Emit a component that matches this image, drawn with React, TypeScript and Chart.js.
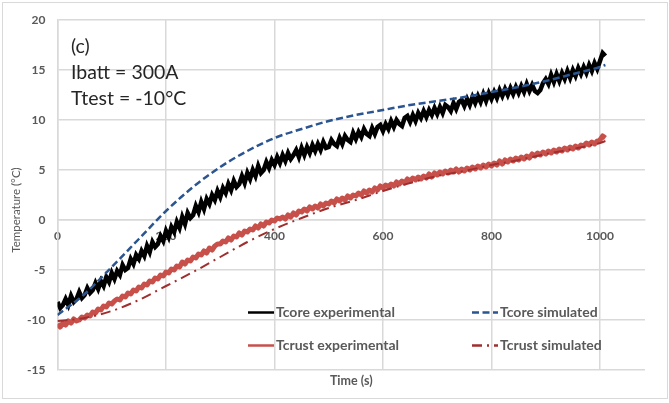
import React, { useEffect, useRef } from "react";
import { Chart, registerables } from "chart.js";

Chart.register(...registerables);

// Sampling step of the experimental records (seconds)
const SAMPLE_STEP_S = 5;

// Tcore experimental (°C), one value every 5 s from 0 to 1010 s
const tcoreExperimental: number[] = [
  -8.2, -8.8, -8.5, -7.9, -8.5, -7.6, -8.2, -7.9, -7.2, -7.8,
  -7.5, -6.8, -7.3, -7.0, -6.3, -6.9, -6.1, -6.6, -5.7, -6.2,
  -5.3, -5.9, -5.1, -5.5, -4.5, -5.0, -4.8, -3.9, -4.4, -3.5,
  -3.9, -3.1, -3.6, -2.6, -3.2, -2.2, -2.7, -2.4, -1.6, -2.1,
  -1.1, -1.7, -0.7, -1.2, -0.2, -0.8, 0.3, -0.4, 0.7, 0.2,
  0.5, 1.4, 0.8, 1.8, 1.1, 2.1, 1.6, 2.5, 2.0, 2.9,
  2.3, 3.2, 2.7, 3.6, 3.0, 3.9, 3.3, 3.6, 4.4, 3.7,
  4.7, 4.1, 5.0, 4.4, 5.4, 4.7, 5.0, 5.8, 5.2, 6.0,
  5.5, 6.3, 5.7, 6.5, 5.9, 6.7, 6.1, 6.5, 7.0, 6.3,
  7.2, 6.5, 7.3, 6.7, 7.5, 6.9, 7.6, 7.0, 7.8, 7.2,
  7.3, 8.0, 7.6, 7.4, 8.2, 7.6, 8.4, 8.0, 7.8, 8.7,
  8.1, 8.8, 8.3, 9.1, 8.6, 8.4, 9.2, 8.6, 9.3, 9.5,
  8.9, 9.6, 9.1, 9.9, 9.3, 10.0, 9.6, 9.4, 10.2, 10.4,
  9.8, 10.5, 9.9, 10.7, 10.2, 10.9, 10.3, 11.0, 10.5, 11.2,
  10.6, 11.3, 10.7, 11.5, 11.3, 10.9, 11.7, 11.1, 11.8, 12.0,
  11.4, 12.1, 11.5, 12.3, 11.7, 12.4, 11.8, 12.6, 11.9, 12.7,
  12.1, 12.8, 12.2, 13.0, 12.4, 13.1, 12.5, 13.2, 12.6, 13.3,
  12.7, 13.4, 12.8, 13.6, 12.9, 13.5, 12.9, 12.7, 13.0, 13.7,
  14.1, 13.6, 14.5, 13.8, 14.6, 13.9, 14.7, 14.1, 14.9, 14.2,
  15.0, 14.4, 15.2, 14.6, 15.3, 14.7, 15.5, 14.9, 15.7, 15.1,
  15.9, 16.7, 16.4,
];

// Tcrust experimental (°C), one value every 5 s from 0 to 1010 s
const tcrustExperimental: number[] = [
  -10.4, -10.7, -10.3, -10.5, -10.1, -10.3, -9.9, -10.1, -10.0, -9.7,
  -9.8, -9.5, -9.6, -9.2, -9.3, -8.9, -9.0, -8.6, -8.7, -8.3,
  -8.4, -8.1, -7.9, -8.0, -7.6, -7.7, -7.3, -7.4, -7.0, -7.1,
  -6.7, -6.8, -6.4, -6.5, -6.1, -6.2, -5.8, -5.9, -5.5, -5.6,
  -5.2, -5.3, -4.9, -5.0, -4.6, -4.7, -4.2, -4.4, -4.0, -4.1,
  -3.7, -3.8, -3.4, -3.5, -3.1, -3.3, -2.8, -3.0, -2.6, -2.4,
  -2.4, -2.1, -2.2, -1.8, -2.0, -1.6, -1.7, -1.3, -1.5, -1.1,
  -1.2, -0.9, -1.0, -0.6, -0.8, -0.4, -0.6, -0.2, -0.3, 0.0,
  -0.1, 0.2, 0.1, 0.3, 0.1, 0.5, 0.3, 0.7, 0.5, 0.9,
  0.8, 1.1, 0.9, 1.3, 1.1, 1.4, 1.2, 1.6, 1.4, 1.7,
  1.6, 1.9, 1.7, 2.1, 1.9, 2.2, 2.0, 2.4, 2.2, 2.5,
  2.4, 2.7, 2.5, 2.9, 2.7, 3.0, 2.8, 3.2, 3.0, 3.4,
  3.2, 3.5, 3.3, 3.6, 3.4, 3.8, 3.6, 3.9, 3.7, 4.1,
  3.9, 4.2, 4.0, 4.3, 4.1, 4.4, 4.2, 4.6, 4.3, 4.7,
  4.5, 4.8, 4.6, 4.9, 4.7, 5.0, 4.8, 5.1, 4.8, 5.1,
  4.9, 5.2, 5.0, 5.3, 5.1, 5.4, 5.2, 5.5, 5.3, 5.6,
  5.4, 5.7, 5.5, 5.9, 5.6, 6.0, 5.8, 6.1, 5.9, 6.2,
  6.0, 6.3, 6.1, 6.4, 6.2, 6.6, 6.4, 6.7, 6.5, 6.8,
  6.6, 6.9, 6.7, 7.0, 6.8, 7.1, 6.9, 7.2, 7.0, 7.3,
  7.1, 7.4, 7.2, 7.5, 7.4, 7.7, 7.5, 7.8, 7.6, 7.9,
  8.0, 8.4, 8.2,
];

// Simulated curves (s, °C)
const simulatedTimes: number[] = [
  0, 50, 100, 150, 200, 250, 300, 350, 400, 450, 500,
  550, 600, 650, 700, 750, 800, 850, 900, 950, 1000, 1010,
];
const tcoreSimulated: number[] = [
  -9.5, -7.4, -4.7, -1.9, 0.9, 3.3, 5.3, 6.9, 8.2, 9.1, 9.9,
  10.5, 11.0, 11.5, 11.9, 12.3, 12.8, 13.3, 13.9, 14.6, 15.3, 15.5,
];
const tcrustSimulated: number[] = [
  -10.1, -9.8, -9.1, -8.0, -6.6, -5.2, -3.7, -2.2, -0.9, 0.2, 1.2,
  2.0, 2.9, 3.7, 4.4, 4.9, 5.5, 6.0, 6.6, 7.1, 7.7, 7.9,
];

const seriesLabels = [
  "Tcore experimental",
  "Tcore simulated",
  "Tcrust experimental",
  "Tcrust simulated",
];
const annotationLines = ["(c)", "Ibatt = 300A", "Ttest = -10°C"];
const xTitle = "Time (s)";
const yTitle = "Temperature (°C)";

const X_MIN = 0;
const X_MAX = 1083;
const X_STEP = 200;
const Y_MIN = -15;
const Y_MAX = 20;
const Y_STEP = 5;

const FONT = "Lato, 'Open Sans', 'DejaVu Sans', sans-serif";
const GRAY = "#595959";
const GRID = "#d9d9d9";

const expPoints = (vals: number[]) =>
  vals.map((v, i) => ({ x: i * SAMPLE_STEP_S, y: v }));
const simPoints = (vals: number[]) =>
  vals.map((v, i) => ({ x: simulatedTimes[i], y: v }));

const decorPlugin = {
  id: "decor",
  afterDraw(chart: any) {
    const ctx = chart.ctx as CanvasRenderingContext2D;
    const area = chart.chartArea;
    ctx.save();
    // outer frame
    ctx.strokeStyle = GRID;
    ctx.lineWidth = 1;
    ctx.strokeRect(2.5, 2.5, 665, 396);

    // annotation
    ctx.fillStyle = "#262626";
    ctx.font = `19.5px ${FONT}`;
    ctx.textAlign = "left";
    ctx.textBaseline = "middle";
    const annY = [47, 73, 99];
    annotationLines.forEach((t, i) => ctx.fillText(t, 71, annY[i]));

    // axis titles
    ctx.fillStyle = GRAY;
    ctx.font = `bold 12.5px ${FONT}`;
    ctx.textAlign = "center";
    ctx.fillText(xTitle, (area.left + area.right) / 2, 381);
    ctx.save();
    ctx.translate(16, 210);
    ctx.rotate(-Math.PI / 2);
    ctx.font = `11.5px ${FONT}`;
    ctx.fillText(yTitle, 0, 0);
    ctx.restore();

    // legend
    const slots = [
      { ds: 0, x: 248, y: 312.5 },
      { ds: 1, x: 472, y: 312.5 },
      { ds: 2, x: 248, y: 345.5 },
      { ds: 3, x: 472, y: 345.5 },
    ];
    slots.forEach((s) => {
      const ds = chart.data.datasets[s.ds];
      ctx.save();
      ctx.strokeStyle = ds.borderColor;
      ctx.lineWidth = 2.5;
      ctx.setLineDash(ds.borderDash || []);
      ctx.lineCap = "butt";
      ctx.beginPath();
      ctx.moveTo(s.x, s.y);
      ctx.lineTo(s.x + 26, s.y);
      ctx.stroke();
      ctx.restore();
      ctx.fillStyle = GRAY;
      ctx.font = `bold 14px ${FONT}`;
      ctx.textAlign = "left";
      ctx.textBaseline = "middle";
      ctx.fillText(ds.label, s.x + 28, s.y);
    });
    ctx.restore();
  },
};

export default function App() {
  const canvasRef = useRef<HTMLCanvasElement | null>(null);

  useEffect(() => {
    document.body.style.margin = "0";
    const canvas = canvasRef.current;
    if (!canvas) return;
    const chart = new Chart(canvas, {
      type: "line",
      data: {
        datasets: [
          {
            label: seriesLabels[0],
            data: expPoints(tcoreExperimental),
            borderColor: "#000000",
            borderWidth: 4.5,
            borderJoinStyle: "miter",
            pointRadius: 0,
            tension: 0,
            order: 2,
          },
          {
            label: seriesLabels[1],
            data: simPoints(tcoreSimulated),
            borderColor: "#2B5590",
            borderWidth: 2.5,
            borderDash: [7, 3.5],
            pointRadius: 0,
            cubicInterpolationMode: "monotone",
            order: 0,
          },
          {
            label: seriesLabels[2],
            data: expPoints(tcrustExperimental),
            borderColor: "#C8504B",
            borderWidth: 5,
            borderJoinStyle: "round",
            pointRadius: 0,
            tension: 0,
            order: 3,
          },
          {
            label: seriesLabels[3],
            data: simPoints(tcrustSimulated),
            borderColor: "#A12E2E",
            borderWidth: 2,
            borderDash: [10, 5, 2, 5],
            pointRadius: 0,
            cubicInterpolationMode: "monotone",
            order: 1,
          },
        ],
      },
      options: {
        animation: false,
        responsive: false,
        devicePixelRatio: 1,
        layout: { padding: { left: 4, top: 20, right: 24, bottom: 33 } },
        plugins: {
          legend: { display: false },
          tooltip: { enabled: false },
        },
        scales: {
          x: {
            type: "linear",
            min: X_MIN,
            max: X_MAX,
            position: { y: 0 } as any,
            ticks: {
              stepSize: X_STEP,
              includeBounds: false,
              color: GRAY,
              font: { family: FONT, size: 12, weight: "bold" },
              padding: 9,
              maxRotation: 0,
              callback: (v: any) => String(v),
            },
            grid: { color: GRID, lineWidth: 1.5, drawTicks: false },
            border: { color: GRID, width: 1.5 },
          },
          y: {
            type: "linear",
            min: Y_MIN,
            max: Y_MAX,
            ticks: {
              stepSize: Y_STEP,
              color: GRAY,
              font: { family: FONT, size: 12, weight: "bold" },
              padding: 12,
              callback: (v: any) => String(v),
            },
            grid: { color: GRID, lineWidth: 1.5, drawTicks: false },
            border: { color: GRID, width: 1.5 },
            afterFit: (scale: any) => {
              scale.width = 53.5;
            },
          },
        },
      },
      plugins: [decorPlugin],
    });
    return () => chart.destroy();
  }, []);

  return (
    <div style={{ width: 669, height: 403, position: "relative" }}>
      <canvas ref={canvasRef} width={669} height={403} />
    </div>
  );
}
